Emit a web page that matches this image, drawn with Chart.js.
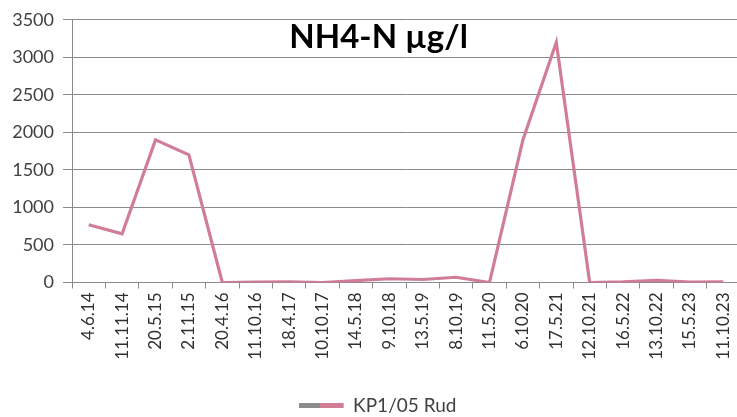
<!DOCTYPE html>
<html>
<head>
<meta charset="utf-8">
<script src="https://cdn.jsdelivr.net/npm/chart.js@4/dist/chart.umd.min.js"></script>
<style>
  html, body { margin: 0; padding: 0; background: #ffffff; overflow: hidden; width: 737px; height: 417px; }
  #wrap { position: relative; width: 748px; height: 417px; }
  canvas { display: block; }
</style>
</head>
<body>
<div id="wrap"><canvas id="c" width="748" height="417"></canvas></div>
<script>
const categories = ['4.6.14','11.11.14','20.5.15','2.11.15','20.4.16','11.10.16','18.4.17','10.10.17','14.5.18','9.10.18','13.5.19','8.10.19','11.5.20','6.10.20','17.5.21','12.10.21','16.5.22','13.10.22','15.5.23','11.10.23'];
const seriesName = 'KP1/05 Rud';
const seriesValues = [770, 650, 1900, 1700, 0, 5, 10, 0, 25, 50, 40, 70, 0, 1900, 3200, 0, 10, 30, 5, 10];
const yTicks = [0, 500, 1000, 1500, 2000, 2500, 3000, 3500];
const chartTitle = 'NH4-N µg/l';

const FONT = 'Lato, "Liberation Sans", sans-serif';
const LINE_COLOR = '#d07d95';
const LEGEND_GRAY = '#8c8c8c';
const GRID_COLOR = '#8a8a8a';
const LEGEND_BOX_W = 60;

const titlePlugin = {
  id: 'innerTitle',
  afterDatasetsDraw(chart) {
    const ctx = chart.ctx;
    const a = chart.chartArea;
    ctx.save();
    ctx.font = 'bold 33px ' + FONT;
    ctx.fillStyle = '#000000';
    ctx.textAlign = 'center';
    ctx.textBaseline = 'alphabetic';
    ctx.fillText(chartTitle, a.left + (a.right - a.left) * 0.459, a.top + 28);
    ctx.restore();
  }
};

const legendTwoTone = {
  id: 'legendTwoTone',
  beforeDraw(chart) {
    const lg = chart.legend;
    if (!lg || !lg.legendHitBoxes || !lg.legendHitBoxes.length) return;
    const hb = lg.legendHitBoxes[0];
    const g = chart.ctx.createLinearGradient(hb.left, 0, hb.left + LEGEND_BOX_W, 0);
    g.addColorStop(0, 'rgba(255,255,255,0)');
    g.addColorStop(0.25, 'rgba(255,255,255,0)');
    g.addColorStop(0.25, LEGEND_GRAY);
    g.addColorStop(0.6, LEGEND_GRAY);
    g.addColorStop(0.6, LINE_COLOR);
    g.addColorStop(1, LINE_COLOR);
    lg.legendItems[0].fillStyle = g;
  }
};

new Chart(document.getElementById('c'), {
  type: 'line',
  data: {
    labels: categories,
    datasets: [{
      label: seriesName,
      data: seriesValues,
      borderColor: LINE_COLOR,
      backgroundColor: LINE_COLOR,
      borderWidth: 3.2,
      pointRadius: 0,
      tension: 0,
      fill: false
    }]
  },
  options: {
    responsive: false,
    animation: false,
    devicePixelRatio: 1,
    layout: { padding: { top: 19, right: 8, left: 0, bottom: -8 } },
    plugins: {
      title: { display: false },
      tooltip: { enabled: false },
      legend: {
        display: true,
        position: 'bottom',
        labels: {
          font: { family: FONT, size: 19 },
          color: '#404040',
          boxWidth: LEGEND_BOX_W,
          boxHeight: 5,
          padding: 4,
          generateLabels(chart) {
            return chart.data.datasets.map((ds, i) => ({
              text: ds.label,
              fillStyle: ds.borderColor,
              strokeStyle: 'rgba(0,0,0,0)',
              lineWidth: 0,
              hidden: false,
              datasetIndex: i,
              fontColor: '#404040'
            }));
          }
        }
      }
    },
    scales: {
      x: {
        type: 'category',
        offset: true,
        grid: {
          offset: true,
          drawOnChartArea: false,
          drawTicks: true,
          tickLength: 6,
          color: GRID_COLOR
        },
        border: { display: true, color: GRID_COLOR, width: 1 },
        ticks: {
          minRotation: 90,
          maxRotation: 90,
          autoSkip: false,
          padding: 4,
          color: '#303030',
          font: { family: FONT, size: 17 }
        },
        afterFit(scale) { scale.height = 109.5; }
      },
      y: {
        min: 0,
        max: 3500,
        afterBuildTicks(scale) { scale.ticks = yTicks.map(v => ({ value: v })); },
        grid: {
          color: GRID_COLOR,
          lineWidth: 1,
          drawTicks: true,
          tickLength: 9
        },
        border: { display: true, color: GRID_COLOR, width: 1 },
        ticks: {
          padding: 9,
          color: '#404040',
          font: { family: FONT, size: 18 },
          callback: (v) => String(v)
        },
        afterFit(scale) { scale.width = 72; }
      }
    }
  },
  plugins: [titlePlugin, legendTwoTone]
});
</script>
</body>
</html>
